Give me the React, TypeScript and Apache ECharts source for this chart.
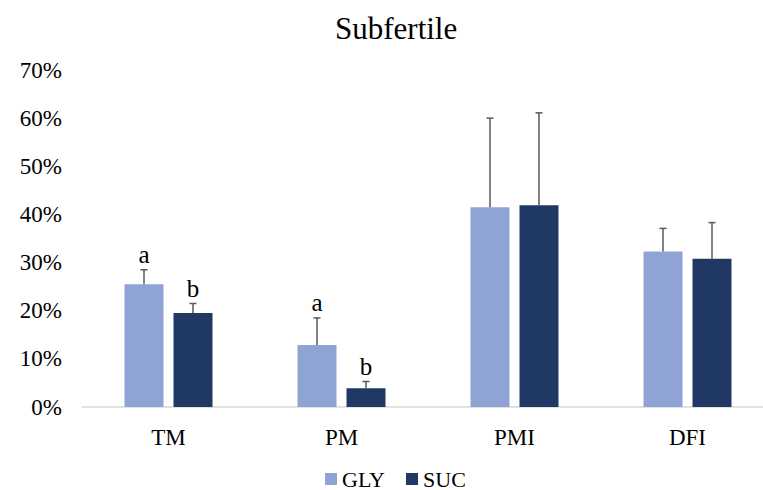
import React, { useEffect, useRef } from "react";
import * as echarts from "echarts";

const categories = ["TM", "PM", "PMI", "DFI"];
const seriesNames = ["GLY", "SUC"];
const glyValues = [25.5, 12.9, 41.5, 32.3];
const sucValues = [19.5, 3.9, 41.9, 30.8];
const glyErrors = [3.0, 5.6, 18.5, 4.8];
const sucErrors = [2.0, 1.4, 19.2, 7.5];
const glyLetters = ["a", "a", "", ""];
const sucLetters = ["b", "b", "", ""];
const yTicks = [0, 10, 20, 30, 40, 50, 60, 70];

const GLY_COLOR = "#8FA3D4";
const SUC_COLOR = "#203864";
const ERR_COLOR = "#595959";
const FONT = "Liberation Serif";
const BAR_W = 39;
const BAR_GAP = 10;

function errorSeries(name: string, values: number[], errors: number[], letters: string[], offset: number) {
  return {
    type: "custom",
    name: name + "-err",
    z: 5,
    silent: true,
    data: values.map((v, i) => [i, v, v + errors[i]]),
    encode: { x: 0, y: 2 },
    renderItem: (params: any, api: any) => {
      const ci = api.value(0);
      const base = api.coord([ci, api.value(1)]);
      const top = api.coord([ci, api.value(2)]);
      const x = base[0] + offset;
      const children: any[] = [
        { type: "line", shape: { x1: x, y1: base[1], x2: x, y2: top[1] }, style: { stroke: ERR_COLOR, lineWidth: 1.5 } },
        { type: "line", shape: { x1: x - 3.5, y1: top[1], x2: x + 3.5, y2: top[1] }, style: { stroke: ERR_COLOR, lineWidth: 1.5 } },
      ];
      const letter = letters[params.dataIndex];
      if (letter) {
        children.push({
          type: "text",
          x,
          y: top[1] - 15,
          style: { text: letter, fontSize: 25, fontFamily: FONT, fill: "#000", textAlign: "center", textVerticalAlign: "middle" },
        });
      }
      return { type: "group", children };
    },
  };
}

export default function App() {
  const ref = useRef<HTMLDivElement>(null);
  useEffect(() => {
    document.body.style.margin = "0";
    if (!ref.current) return;
    const chart = echarts.init(ref.current, undefined, { renderer: "svg" });
    const off = (BAR_W + BAR_GAP) / 2;
    chart.setOption({
      animation: false,
      backgroundColor: "#ffffff",
      title: {
        text: "Subfertile",
        left: 335,
        top: 13,
        padding: 0,
        textStyle: { fontFamily: FONT, fontSize: 31, fontWeight: "normal", color: "#000" },
      },
      legend: {
        data: seriesNames,
        left: 325,
        top: 468,
        padding: 0,
        icon: "rect",
        itemWidth: 12,
        itemHeight: 12,
        itemGap: 21,
        textStyle: { fontFamily: FONT, fontSize: 22, color: "#000" },
      },
      grid: { left: 82, width: 692, top: 70, height: 337, containLabel: false },
      xAxis: {
        type: "category",
        data: categories,
        axisLine: { lineStyle: { color: "#D9D9D9", width: 1.5 } },
        axisTick: { show: false },
        axisLabel: { fontFamily: FONT, fontSize: 23, color: "#000", margin: 19 },
      },
      yAxis: {
        type: "value",
        min: yTicks[0],
        max: yTicks[yTicks.length - 1],
        interval: 10,
        axisLine: { show: false },
        axisTick: { show: false },
        splitLine: { show: false },
        axisLabel: { fontFamily: FONT, fontSize: 23, color: "#000", margin: 20, formatter: "{value}%" },
      },
      series: [
        {
          type: "bar",
          name: seriesNames[0],
          data: glyValues,
          barWidth: BAR_W,
          barGap: (BAR_GAP / BAR_W) * 100 + "%",
          itemStyle: { color: GLY_COLOR },
        },
        {
          type: "bar",
          name: seriesNames[1],
          data: sucValues,
          barWidth: BAR_W,
          barGap: (BAR_GAP / BAR_W) * 100 + "%",
          itemStyle: { color: SUC_COLOR },
        },
        errorSeries("GLY", glyValues, glyErrors, glyLetters, -off),
        errorSeries("SUC", sucValues, sucErrors, sucLetters, off),
      ],
    });
    return () => chart.dispose();
  }, []);
  return (
    <div style={{ width: 763, height: 490, overflow: "hidden", position: "relative" }}>
      <div ref={ref} style={{ width: 790, height: 490 }} />
    </div>
  );
}
